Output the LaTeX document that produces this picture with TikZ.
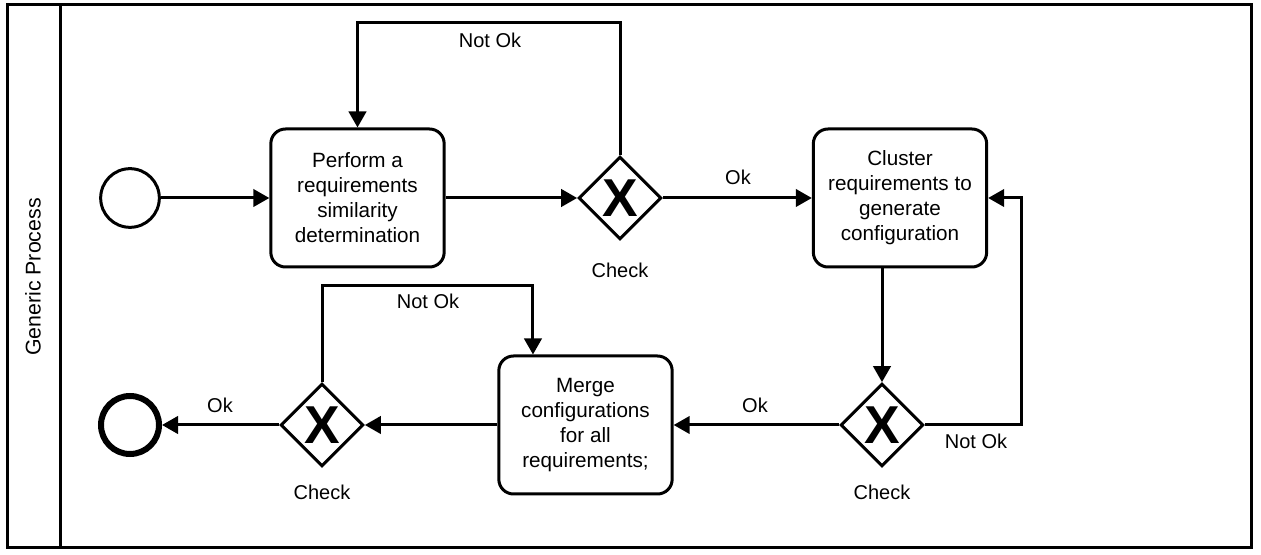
\documentclass[tikz,border=0pt]{standalone}
\usepackage{fontspec}
\setmainfont{Liberation Sans}
\usetikzlibrary{arrows.meta,shapes.geometric}
\tikzset{
  task/.style={draw,line width=2.25pt,rounded corners=11pt,minimum width=130pt,minimum height=103.5pt,align=center,font=\fontsize{15.5}{18.75}\selectfont},
  gateway/.style={draw,diamond,line width=2.25pt,minimum width=62pt,minimum height=62pt,inner sep=0pt,font=\fontsize{40}{40}\selectfont\bfseries},
  startev/.style={draw,circle,line width=2.25pt,minimum size=44pt,inner sep=0pt},
  endev/.style={draw,circle,line width=4.5pt,minimum size=43.5pt,inner sep=0pt},
  flow/.style={line width=2.25pt,-{Triangle[length=12pt,width=13pt]}},
  lbl/.style={font=\fontsize{15}{17}\selectfont,inner sep=0pt}
}
\begin{document}
\begin{tikzpicture}[x=0.75pt,y=-0.75pt]
\path[use as bounding box] (0,0) rectangle (1261,555);
% pool and lane
\draw[line width=2.25pt] (7,5) rectangle (1251,548);
\draw[line width=2.25pt] (60,5) -- (60,548);
\node[lbl,font=\fontsize{16}{18}\selectfont,rotate=90] (lane) at (33,277) {Generic Process};
% events, tasks and gateways
\node[startev] (start) at (130,198) {};
\node[task] (perform) at (357.5,198) {Perform a\\requirements\\similarity\\determination};
\node[gateway] (chk1) at (620,198) {X};
\node[task] (cluster) at (900,198) {Cluster\\requirements to\\generate\\configuration};
\node[gateway] (chk3) at (882,425) {X};
\node[task] (merge) at (585.5,425) {Merge\\configurations\\for all\\requirements;};
\node[gateway] (chk2) at (322,425) {X};
\node[endev] (stop) at (130,425) {};
% gateway names
\node[lbl] (chk1name) at (620,270) {Check};
\node[lbl] (chk3name) at (882,492) {Check};
\node[lbl] (chk2name) at (322,492) {Check};
% flows
\draw[flow] (start) -- (perform);
\draw[flow] (perform) -- (chk1);
\draw[flow] (chk1) -- (cluster);
\draw[flow] (chk1.north) -- ++(0,-133) -| (perform.north);
\draw[flow] (cluster.south -| chk3) -- (chk3);
\draw[flow] (chk3.east) -- ++(97,0) |- (cluster.east);
\draw[flow] (chk3) -- (merge);
\draw[flow] (merge) -- (chk2);
\draw[flow] (chk2.north) -- ++(0,-97) -| ([xshift=-39.4pt]merge.north);
\draw[flow] (chk2) -- (stop);
% flow labels
\node[lbl] (notok1) at (490,40) {Not Ok};
\node[lbl] (ok1) at (738,177) {Ok};
\node[lbl] (notok3) at (976,441) {Not Ok};
\node[lbl] (ok3) at (755,405) {Ok};
\node[lbl] (notok2) at (428,301) {Not Ok};
\node[lbl] (ok2) at (220,405) {Ok};
\end{tikzpicture}
\end{document}
